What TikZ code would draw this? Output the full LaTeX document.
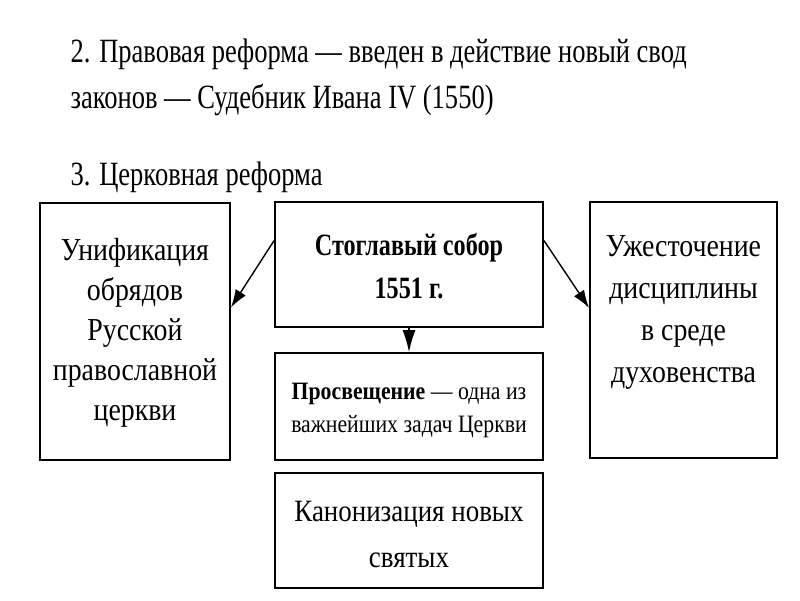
\documentclass[tikz,border=0pt]{standalone}
\usepackage{fontspec}
\setmainfont{Liberation Serif}[FakeStretch=0.78]
\newfontfamily\boxfont{Liberation Serif}[FakeStretch=0.87]
\usetikzlibrary{arrows.meta}
\begin{document}
\begin{tikzpicture}[x=1pt,y=-1pt,
  box/.style={draw,line width=1.8pt,inner sep=0pt},
  txt/.style={align=center,font=\boxfont\fontsize{32}{40}\selectfont},
  arr/.style={-{Latex[length=18pt,width=12pt]},line width=1.4pt}]
\useasboundingbox (0,0) rectangle (800,600);
% heading
\node[anchor=base west,align=left,font=\fontsize{34}{46}\selectfont] (head) at (67,108)
  {2. Правовая реформа — введен в действие новый свод\\законов — Судебник Ивана IV (1550)};
\node[anchor=base west,font=\fontsize{34}{46}\selectfont] (church) at (67,185) {3. Церковная реформа};
% boxes
\node[box,minimum width=190pt,minimum height=257pt] (unif) at (135,331.5) {};
\node[box,minimum width=268pt,minimum height=125pt] (sobor) at (409,264.5) {};
\node[box,minimum width=268pt,minimum height=107pt] (prosv) at (409,406.5) {};
\node[box,minimum width=268pt,minimum height=115pt] (kanon) at (409,530.5) {};
\node[box,minimum width=187pt,minimum height=256pt] (discip) at (683.5,330) {};
% texts
\node[txt] (unift) at (135,333) {Унификация\\обрядов\\Русской\\православной\\церкви};
\node[txt,font=\bfseries\fontsize{31}{43}\selectfont] (sobort) at (409,266) {Стоглавый собор\\1551 г.};
\node[txt,font=\boxfont\fontsize{25}{33}\selectfont] (prosvt) at (409,410) {\textbf{Просвещение} — одна из\\важнейших задач Церкви};
\node[txt,font=\boxfont\fontsize{31}{46}\selectfont] (kanont) at (409,534) {Канонизация новых\\святых};
\node[txt,font=\boxfont\fontsize{32}{42}\selectfont] (discipt) at (683.5,312) {Ужесточение\\дисциплины\\в среде\\духовенства};
% arrows
\draw[arr] ([yshift=24pt]sobor.west) -- ([yshift=24pt]unif.east);
\draw[arr] ([yshift=24pt]sobor.east) -- ([yshift=22pt]discip.west);
\draw[arr,-{Latex[length=22pt,width=13pt]}] (sobor) -- (prosv);
\end{tikzpicture}
\end{document}
